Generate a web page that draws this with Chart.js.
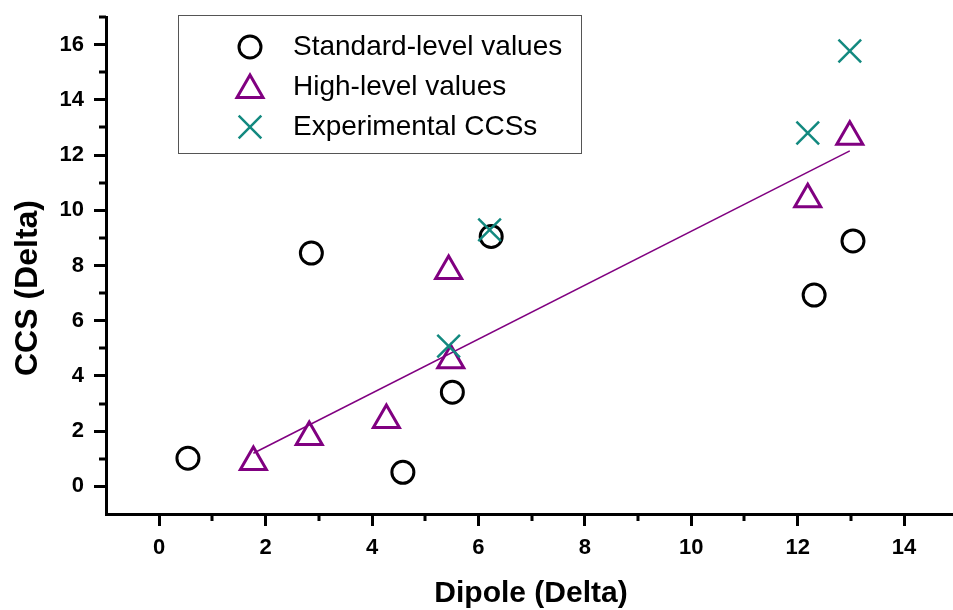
<!DOCTYPE html>
<html lang="en">
<head>
    <meta charset="UTF-8">
    <title>CCS vs Dipole</title>
    <script src="https://cdn.jsdelivr.net/npm/chart.js"></script>
    <style>
        html, body {
            margin: 0;
            padding: 0;
            background: #ffffff;
        }
        canvas {
            display: block;
        }
    </style>
</head>
<body>
    <canvas id="ccsChart" width="953" height="610"></canvas>

    <script>
        // values
        const stdX = [0.54, 2.86, 4.58, 5.51, 6.24, 12.31, 13.04];
        const stdY = [1.02, 8.45, 0.51, 3.41, 9.05, 6.93, 8.89];

        const highX = [1.77, 2.82, 4.27, 5.44, 5.48, 12.19, 12.98];
        const highY = [0.88, 1.79, 2.40, 7.80, 4.57, 10.40, 12.66];

        const expX = [5.44, 6.21, 12.19, 12.98];
        const expY = [5.08, 9.29, 12.80, 15.77];

        // linear fit of the high-level values (end points)
        const fitX = [1.77, 12.98];
        const fitY = [1.20, 12.15];

        const legendLabels = ['Standard-level values', 'High-level values', 'Experimental CCSs'];
        const xTitle = 'Dipole (Delta)';
        const yTitle = 'CCS (Delta)';

        const PURPLE = '#800080';
        const TEAL = '#12897f';
        const FONT = "'Liberation Sans', Arial, sans-serif";

        function toPoints(xs, ys) {
            return xs.map((x, i) => ({ x: x, y: ys[i] }));
        }

        function intTicks(scale) {
            const ticks = [];
            for (let v = Math.ceil(scale.min); v <= Math.floor(scale.max); v++) {
                ticks.push({ value: v });
            }
            scale.ticks = ticks;
        }

        function majorColor(ctx) {
            const v = ctx.tick ? ctx.tick.value : null;
            if (v === null || v < 0 || v % 2 !== 0) return 'rgba(0,0,0,0)';
            return '#000';
        }

        // minor ticks (odd values), shorter than the major ones
        const minorTicks = {
            id: 'minorTicks',
            afterDraw(chart) {
                const ctx = chart.ctx;
                const xs = chart.scales.x;
                const ys = chart.scales.y;
                const area = chart.chartArea;
                ctx.save();
                ctx.strokeStyle = '#000';
                ctx.lineWidth = 3;
                ctx.beginPath();
                for (let v = 1; v < xs.max; v += 2) {
                    const px = Math.round(xs.getPixelForValue(v));
                    ctx.moveTo(px, area.bottom);
                    ctx.lineTo(px, area.bottom + 7);
                }
                for (let v = 1; v <= ys.max; v += 2) {
                    const py = Math.round(ys.getPixelForValue(v));
                    ctx.moveTo(area.left, py);
                    ctx.lineTo(area.left - 7, py);
                }
                ctx.stroke();
                ctx.restore();
            }
        };

        // axis titles
        const axisTitles = {
            id: 'axisTitles',
            afterDraw(chart) {
                const ctx = chart.ctx;
                ctx.save();
                ctx.fillStyle = '#000';
                ctx.textAlign = 'center';
                ctx.textBaseline = 'middle';
                ctx.font = 'bold 30px ' + FONT;
                ctx.fillText(xTitle, 531, 594);
                ctx.translate(28, 288);
                ctx.rotate(-Math.PI / 2);
                ctx.font = 'bold 32px ' + FONT;
                ctx.fillText(yTitle, 0, 0);
                ctx.restore();
            }
        };

        // boxed legend inside the plot
        const boxLegend = {
            id: 'boxLegend',
            afterDraw(chart) {
                const ctx = chart.ctx;
                ctx.save();
                ctx.strokeStyle = '#555';
                ctx.lineWidth = 1;
                ctx.fillStyle = '#fff';
                ctx.fillRect(178.5, 15.5, 403, 138);
                ctx.strokeRect(178.5, 15.5, 403, 138);
                const rows = [47, 87, 127];
                for (let i = 0; i < 3; i++) {
                    const ds = chart.data.datasets[i];
                    ctx.strokeStyle = ds.borderColor;
                    ctx.fillStyle = 'rgba(0,0,0,0)';
                    ctx.lineWidth = ds.borderWidth;
                    Chart.helpers.drawPoint(ctx, {
                        pointStyle: ds.pointStyle,
                        radius: ds.pointRadius,
                        rotation: 0,
                        borderWidth: ds.borderWidth
                    }, 250, rows[i] + (ds.pointStyle === 'triangle' ? 3 : 0));
                    ctx.fillStyle = '#000';
                    ctx.font = '28px ' + FONT;
                    ctx.textAlign = 'left';
                    ctx.textBaseline = 'middle';
                    ctx.fillText(legendLabels[i], 293, rows[i]);
                }
                ctx.restore();
            }
        };

        const tickFont = { family: FONT, size: 22, weight: 'bold' };

        new Chart(document.getElementById('ccsChart'), {
            type: 'scatter',
            data: {
                datasets: [
                    {
                        label: legendLabels[0],
                        data: toPoints(stdX, stdY),
                        pointStyle: 'circle',
                        pointRadius: 11,
                        borderWidth: 3,
                        borderColor: '#000',
                        backgroundColor: 'rgba(0,0,0,0)',
                        order: 2
                    },
                    {
                        label: legendLabels[1],
                        data: toPoints(highX, highY),
                        pointStyle: 'triangle',
                        pointRadius: 15,
                        borderWidth: 3,
                        borderColor: PURPLE,
                        backgroundColor: 'rgba(0,0,0,0)',
                        order: 1
                    },
                    {
                        label: legendLabels[2],
                        data: toPoints(expX, expY),
                        pointStyle: 'crossRot',
                        pointRadius: 16,
                        borderWidth: 2.5,
                        borderColor: TEAL,
                        backgroundColor: 'rgba(0,0,0,0)',
                        order: 0
                    },
                    {
                        type: 'line',
                        label: 'fit',
                        data: toPoints(fitX, fitY),
                        borderColor: PURPLE,
                        borderWidth: 1.5,
                        pointRadius: 0,
                        showLine: true,
                        fill: false,
                        order: 3
                    }
                ]
            },
            options: {
                responsive: false,
                animation: false,
                layout: { autoPadding: false, padding: { top: 17, right: 0, left: 0, bottom: 0 } },
                plugins: {
                    legend: { display: false },
                    tooltip: { enabled: false }
                },
                scales: {
                    x: {
                        type: 'linear',
                        position: 'bottom',
                        min: -1,
                        max: 14.92,
                        afterBuildTicks: intTicks,
                        afterFit: s => { s.height = 96; s.paddingLeft = 0; s.paddingRight = 0; },
                        border: { color: '#000', width: 3 },
                        grid: {
                            drawOnChartArea: false,
                            drawTicks: true,
                            tickLength: 12,
                            tickWidth: 3,
                            tickColor: majorColor
                        },
                        ticks: {
                            color: '#000',
                            font: tickFont,
                            padding: 9,
                            autoSkip: false,
                            maxRotation: 0,
                            callback: v => (v >= 0 && v % 2 === 0) ? v : ''
                        }
                    },
                    y: {
                        type: 'linear',
                        position: 'left',
                        min: -1,
                        max: 17,
                        afterBuildTicks: intTicks,
                        afterFit: s => { s.width = 106; s.paddingTop = 0; s.paddingBottom = 0; },
                        border: { color: '#000', width: 3 },
                        grid: {
                            drawOnChartArea: false,
                            drawTicks: true,
                            tickLength: 12,
                            tickWidth: 3,
                            tickColor: majorColor
                        },
                        ticks: {
                            color: '#000',
                            font: tickFont,
                            padding: 10,
                            autoSkip: false,
                            callback: v => (v >= 0 && v % 2 === 0) ? v : ''
                        }
                    }
                }
            },
            plugins: [minorTicks, axisTitles, boxLegend]
        });
    </script>
</body>
</html>
